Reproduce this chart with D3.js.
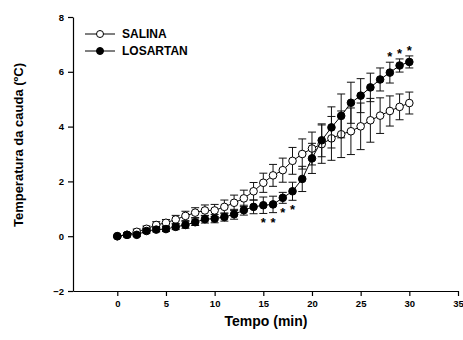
<!DOCTYPE html>
<html>
<head>
<meta charset="utf-8">
<script src="https://cdn.jsdelivr.net/npm/d3@7"></script>
<style>
  body { margin: 0; background: #fff; }
  svg text { font-family: Arial, "Liberation Sans", sans-serif; font-weight: bold; }
</style>
</head>
<body>
<svg id="drawing_region"></svg>
<script>
// tempo (min)
const tempo = d3.range(0, 31);

// SALINA: média e EPM
const salina = [0, 0.05, 0.16, 0.27, 0.41, 0.49, 0.61, 0.74, 0.86, 0.94, 0.94,
                1.07, 1.22, 1.38, 1.64, 1.95, 2.22, 2.41, 2.75, 3.0, 3.2,
                3.36, 3.57, 3.72, 3.83, 4.01, 4.23, 4.4, 4.57, 4.72, 4.86];
const salinaErr = [0.03, 0.08, 0.1, 0.1, 0.12, 0.12, 0.15, 0.17, 0.18, 0.2, 0.22,
                   0.25, 0.28, 0.3, 0.32, 0.35, 0.4, 0.44, 0.49, 0.55, 0.6,
                   0.7, 0.8, 0.85, 0.85, 0.85, 0.8, 0.65, 0.55, 0.47, 0.4];

// LOSARTAN: média e EPM
const losartan = [0, 0.05, 0.05, 0.19, 0.24, 0.26, 0.34, 0.41, 0.51, 0.62, 0.64,
                  0.7, 0.8, 0.95, 1.07, 1.13, 1.16, 1.4, 1.64, 2.09, 2.84,
                  3.5, 3.97, 4.39, 4.87, 5.13, 5.43, 5.72, 5.97, 6.23, 6.36];
const losartanErr = [0.03, 0.05, 0.06, 0.08, 0.08, 0.09, 0.1, 0.12, 0.12, 0.14, 0.15,
                     0.15, 0.18, 0.18, 0.25, 0.3, 0.3, 0.2, 0.33, 0.46, 0.55,
                     0.6, 0.75, 0.8, 0.75, 0.62, 0.52, 0.42, 0.38, 0.24, 0.22];

// asteriscos (p < 0.05)
const starsBelow = [15, 16, 17, 18];
const starsAbove = [28, 29, 30];

const xTicks = [0, 5, 10, 15, 20, 25, 30, 35];
const yTicks = [-2, 0, 2, 4, 6, 8];

const config = {
  width: 463,
  height: 340,
  left: 73,
  right: 458,
  top: 17,
  bottom: 291
};

const svg = d3.select('#drawing_region')
    .attr('width', config.width)
    .attr('height', config.height);

const x = d3.scaleLinear().domain([-4.55, 35]).range([config.left, config.right]);
const y = d3.scaleLinear().domain([-2, 8]).range([config.bottom, config.top]);

// eixos
const xAxis = svg.append('g')
    .attr('transform', `translate(0, ${config.bottom})`)
    .call(d3.axisBottom(x).tickValues(xTicks).tickSize(5).tickSizeOuter(0).tickPadding(4));
const yAxis = svg.append('g')
    .attr('transform', `translate(${config.left}, 0)`)
    .call(d3.axisLeft(y).tickValues(yTicks).tickSize(5).tickSizeOuter(0).tickPadding(4));

[xAxis, yAxis].forEach(a => {
  a.selectAll('text').style('font-size', '9.5px').attr('fill', '#000');
  a.selectAll('line, path').attr('stroke', '#000').attr('stroke-width', 1.2);
});

svg.append('text')
    .attr('x', 266).attr('y', 326)
    .attr('text-anchor', 'middle')
    .style('font-size', '14px')
    .text('Tempo (min)');

svg.append('text')
    .attr('transform', 'translate(23, 145) rotate(-90)')
    .attr('text-anchor', 'middle')
    .style('font-size', '13px')
    .text('Temperatura da cauda (ºC)');

const series = [
  { name: 'SALINA', values: salina, err: salinaErr, fill: '#fff' },
  { name: 'LOSARTAN', values: losartan, err: losartanErr, fill: '#000' }
];

const line = d3.line()
    .x((d, i) => x(tempo[i]))
    .y(d => y(d));

series.forEach(s => {
  const g = svg.append('g');
  const pts = tempo.map((t, i) => ({ t: t, v: s.values[i], e: s.err[i] }));

  // barras de erro
  const eb = g.selectAll('g.err').data(pts).enter().append('g')
      .attr('stroke', '#111').attr('stroke-width', 1);
  eb.append('line')
      .attr('x1', d => x(d.t)).attr('x2', d => x(d.t))
      .attr('y1', d => y(d.v - d.e)).attr('y2', d => y(d.v + d.e));
  eb.append('line')
      .attr('x1', d => x(d.t) - 4).attr('x2', d => x(d.t) + 4)
      .attr('y1', d => y(d.v + d.e)).attr('y2', d => y(d.v + d.e));
  eb.append('line')
      .attr('x1', d => x(d.t) - 4).attr('x2', d => x(d.t) + 4)
      .attr('y1', d => y(d.v - d.e)).attr('y2', d => y(d.v - d.e));

  g.append('path')
      .datum(s.values)
      .attr('d', line)
      .attr('fill', 'none')
      .attr('stroke', '#000')
      .attr('stroke-width', 1);

  g.selectAll('circle').data(pts).enter().append('circle')
      .attr('cx', d => x(d.t))
      .attr('cy', d => y(d.v))
      .attr('r', 3.8)
      .attr('fill', s.fill)
      .attr('stroke', '#000')
      .attr('stroke-width', 1);
});

// asteriscos
svg.selectAll('text.below').data(starsBelow).enter().append('text')
    .attr('x', d => x(d))
    .attr('y', d => y(losartan[d] - losartanErr[d]) + 14)
    .attr('text-anchor', 'middle')
    .style('font-size', '13px')
    .text('*');
svg.selectAll('text.above').data(starsAbove).enter().append('text')
    .attr('x', d => x(d))
    .attr('y', d => y(losartan[d] + losartanErr[d]) - 1)
    .attr('text-anchor', 'middle')
    .style('font-size', '13px')
    .text('*');

// legenda
const legend = svg.append('g');
series.forEach((s, i) => {
  const ly = 34 + i * 17;
  legend.append('line')
      .attr('x1', 85).attr('x2', 115).attr('y1', ly).attr('y2', ly)
      .attr('stroke', '#000').attr('stroke-width', 1);
  legend.append('circle')
      .attr('cx', 100).attr('cy', ly).attr('r', 3.5)
      .attr('fill', s.fill).attr('stroke', '#000');
  legend.append('text')
      .attr('x', 122).attr('y', ly + 4)
      .style('font-size', '12px')
      .text(s.name);
});
</script>
</body>
</html>
